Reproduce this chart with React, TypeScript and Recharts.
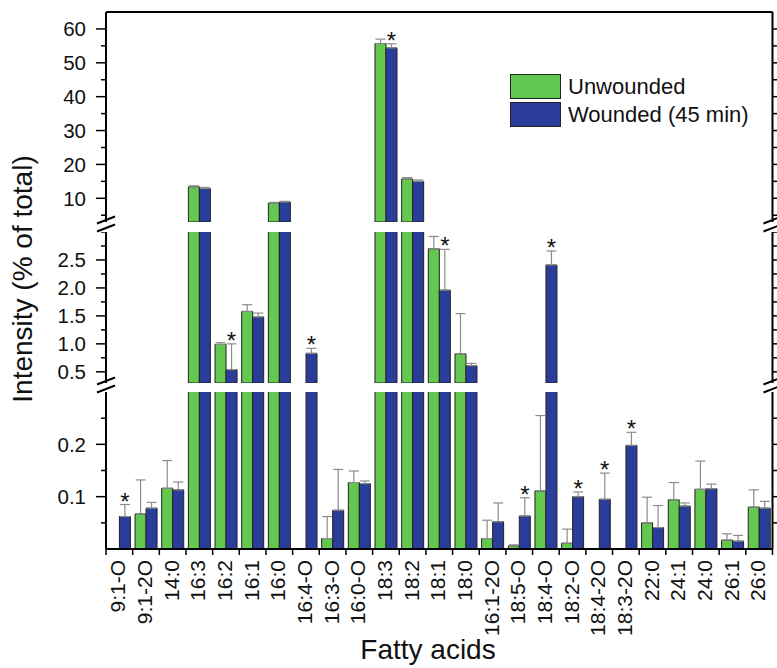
import React from 'react';
import { ComposedChart, Bar, Line, XAxis, YAxis, ErrorBar, LabelList, Legend } from 'recharts';

const acids = ['9:1-O', '9:1-2O', '14:0', '16:3', '16:2', '16:1', '16:0', '16:4-O', '16:3-O', '16:0-O', '18:3', '18:2', '18:1', '18:0', '16:1-2O', '18:5-O', '18:4-O', '18:2-O', '18:4-2O', '18:3-2O', '22:0', '24:1', '24:0', '26:1', '26:0'];
const unwounded = [0, 0.067, 0.116, 13.4, 0.99, 1.58, 8.6, 0, 0.02, 0.127, 55.7, 15.7, 2.7, 0.82, 0.02, 0.006, 0.111, 0.011, 0, 0, 0.05, 0.094, 0.114, 0.017, 0.08];
const unwoundedErr = [0, 0.065, 0.053, 0.3, 0.03, 0.12, 0.2, 0, 0.042, 0.022, 1.3, 0.4, 0.22, 0.72, 0.035, 0.002, 0.144, 0.027, 0, 0, 0.049, 0.033, 0.054, 0.012, 0.033];
const wounded = [0.062, 0.078, 0.113, 12.9, 0.54, 1.48, 8.9, 0.83, 0.074, 0.125, 54.4, 15.0, 1.96, 0.61, 0.052, 0.063, 2.41, 0.1, 0.095, 0.198, 0.041, 0.082, 0.115, 0.015, 0.078];
const woundedErr = [0.023, 0.011, 0.015, 0.3, 0.46, 0.07, 0.2, 0.09, 0.078, 0.005, 1.2, 0.4, 0.73, 0.04, 0.036, 0.035, 0.25, 0.009, 0.05, 0.025, 0.042, 0.006, 0.009, 0.011, 0.013];
const significant = ['9:1-O', '16:2', '16:4-O', '18:3', '18:1', '18:5-O', '18:4-O', '18:2-O', '18:4-2O', '18:3-2O'];

const upperTicks = [5, 10, 15, 20, 25, 30, 35, 40, 45, 50, 55, 60];
const middleTicks = [0.5, 0.75, 1, 1.25, 1.5, 1.75, 2, 2.25, 2.5, 2.75, 3];
const lowerTicks = [0.05, 0.1, 0.15, 0.2, 0.25];

const GREEN = '#62c850';
const BLUE = '#2b3d9b';
const FONT = '"Liberation Sans", Arial, sans-serif';
const W = 777;
const H = 668;
const LEFT_W = 106;
const RIGHT_W = 4.5;

const segments = [
  { key: 'upper', lo: 3, hi: 65, ticks: upperTicks, top: 0, height: 222, marginTop: 11, major: (v: number) => v % 10 === 0, fmt: (v: number) => String(v) },
  { key: 'middle', lo: 0.3, hi: 3, ticks: middleTicks, top: 232, height: 151, marginTop: 0, major: (v: number) => Math.abs(v * 2 - Math.round(v * 2)) < 1e-9 && v < 3, fmt: (v: number) => v.toFixed(1) },
  { key: 'lower', lo: 0, hi: 0.3, ticks: lowerTicks, top: 392, height: 276, marginTop: 0, major: (v: number) => Math.round(v * 100) % 10 === 0, fmt: (v: number) => v.toFixed(1) },
];

function rowsFor(lo: number, hi: number) {
  const inSeg = (v: number) => v > 0 && v >= lo && v < hi;
  return acids.map((acid, i) => ({
    acid,
    g: unwounded[i] >= lo ? unwounded[i] : null,
    w: wounded[i] >= lo ? wounded[i] : null,
    gErr: inSeg(unwounded[i]) && unwoundedErr[i] > 0 ? [0, unwoundedErr[i]] : null,
    wErr: inSeg(wounded[i]) && woundedErr[i] > 0 ? [0, woundedErr[i]] : null,
    starIdx: significant.includes(acid) && inSeg(wounded[i]) ? i : null,
  }));
}

const YTick = (props: any) => {
  const { x, y, payload, seg } = props;
  const v = payload.value;
  const isMajor = seg.major(v);
  const len = isMajor ? 10 : 5;
  return (
    <g>
      <line x1={x - len} x2={x} y1={y} y2={y} stroke="#000" strokeWidth={1.5} />
      {isMajor && (
        <text x={x - 20} y={y} dy="0.36em" textAnchor="end" fontSize={20.5} fill="#111" fontFamily={FONT}>
          {seg.fmt(v)}
        </text>
      )}
    </g>
  );
};

const RightTick = (props: any) => (
  <line x1={props.x} x2={props.x + 5} y1={props.y} y2={props.y} stroke="#000" strokeWidth={1.5} />
);

const TopTick = () => <g />;

const XTick = (props: any) => {
  const { x, y, payload, index } = props;
  const half = payload.offset || (W - LEFT_W - RIGHT_W) / acids.length / 2;
  const lx = x + 6;
  const ly = y + 11;
  return (
    <g>
      <line x1={x + half} x2={x + half} y1={y} y2={y + 6} stroke="#000" strokeWidth={1.5} />
      {index === 0 && <line x1={x - half} x2={x - half} y1={y} y2={y + 6} stroke="#000" strokeWidth={1.5} />}
      <text x={lx} y={ly} transform={`rotate(-90 ${lx} ${ly})`} textAnchor="end" fontSize={21} fill="#111" fontFamily={FONT}>
        {payload.value}
      </text>
    </g>
  );
};

const starFor = (rows: any[], lo: number) => (props: any) => {
  const idx = props.value;
  if (idx == null) return null;
  const r = rows[idx];
  const vb = props.viewBox || props;
  const { x, y, width, height } = vb;
  if (r == null || r.w == null || !height) return null;
  const ppu = height / (r.w - lo);
  const top = y - (r.wErr ? r.wErr[1] : 0) * ppu;
  return (
    <text x={x + width / 2} y={top + 5} textAnchor="middle" fontSize={24} fill="#111" fontFamily={FONT}>
      *
    </text>
  );
};

const renderLegend = ({ payload }: any) => (
  <div style={{ fontFamily: FONT, fontSize: 22, color: '#111' }}>
    {(payload || [])
      .filter((e: any) => e.type !== 'none')
      .map((e: any) => (
        <div key={e.value} style={{ display: 'flex', alignItems: 'center', height: 25, marginBottom: 3 }}>
          <span style={{ display: 'inline-block', width: 49, height: 23, background: e.color, border: '1px solid #222', marginRight: 7 }} />
          <span style={{ lineHeight: '25px', whiteSpace: 'nowrap' }}>{e.value}</span>
        </div>
      ))}
  </div>
);

function Segment({ seg }: { seg: (typeof segments)[number] }) {
  const rows = rowsFor(seg.lo, seg.hi);
  const isUpper = seg.key === 'upper';
  const isLower = seg.key === 'lower';
  return (
    <div style={{ position: 'absolute', left: 0, top: seg.top }}>
      <ComposedChart
        width={W}
        height={seg.height}
        data={rows}
        margin={{ top: seg.marginTop, right: 0, bottom: 0, left: 0 }}
        barGap={0}
        barCategoryGap="9%"
      >
        {isUpper && (
          <XAxis
            dataKey="acid"
            orientation="top"
            height={1}
            interval={0}
            tickSize={0}
            tickMargin={0}
            tickLine={false}
            tick={(p: any) => <TopTick {...p} />}
            axisLine={{ stroke: '#000', strokeWidth: 2 }}
          />
        )}
        {!isUpper && !isLower && <XAxis dataKey="acid" hide />}
        {isLower && (
          <XAxis
            dataKey="acid"
            height={119}
            interval={0}
            tickSize={0}
            tickMargin={0}
            tickLine={false}
            axisLine={{ stroke: '#000', strokeWidth: 2 }}
            tick={(p: any) => <XTick {...p} />}
          />
        )}
        <YAxis
          yAxisId="l"
          type="number"
          domain={[seg.lo, seg.hi]}
          allowDataOverflow
          ticks={seg.ticks}
          interval={0}
          width={LEFT_W}
          tickSize={0}
          tickMargin={0}
          tickLine={false}
          axisLine={{ stroke: '#000', strokeWidth: 2 }}
          tick={(p: any) => <YTick {...p} seg={seg} />}
        />
        <YAxis
          yAxisId="r"
          orientation="right"
          type="number"
          domain={[seg.lo, seg.hi]}
          allowDataOverflow
          ticks={seg.ticks}
          interval={0}
          width={RIGHT_W}
          tickSize={0}
          tickMargin={0}
          tickLine={false}
          tick={(p: any) => <RightTick {...p} />}
          axisLine={{ stroke: '#000', strokeWidth: 2 }}
        />
        {isUpper && (
          <Legend
            layout="horizontal"
            verticalAlign="middle"
            align="center"
            content={renderLegend}
            wrapperStyle={{ position: 'absolute', left: 510, top: 74, width: 260, height: 56 }}
          />
        )}
        <Bar yAxisId="l" dataKey="g" name="Unwounded" fill={GREEN} stroke="#222" strokeWidth={1} isAnimationActive={false}>
          <ErrorBar dataKey="gErr" width={5} stroke="#8c8c8c" strokeWidth={1.2} direction="y" />
        </Bar>
        <Bar yAxisId="l" dataKey="w" name="Wounded (45 min)" fill={BLUE} stroke="#222" strokeWidth={1} isAnimationActive={false}>
          <ErrorBar dataKey="wErr" width={5} stroke="#8c8c8c" strokeWidth={1.2} direction="y" />
          <LabelList dataKey="starIdx" content={starFor(rows, seg.lo)} />
        </Bar>
        {/* invisible series bound to the right-hand frame axis */}
        <Line yAxisId="r" dataKey="w" stroke="none" dot={false} activeDot={false} legendType="none" isAnimationActive={false} />
      </ComposedChart>
    </div>
  );
}

const gaps = [
  { top: 222, bottom: 232 },
  { top: 383, bottom: 392 },
];

function Overlay() {
  const axisXs = [LEFT_W, W - RIGHT_W];
  return (
    <svg width={W} height={H} style={{ position: 'absolute', left: 0, top: 0, pointerEvents: 'none' }}>
      {gaps.map((g, gi) =>
        axisXs.map((ax) =>
          [g.top - 2, g.top + 6].map((cy, k) => (
            <line key={`${gi}-${ax}-${k}`} x1={ax - 9} y1={cy + 3.5} x2={ax + 9} y2={cy - 3.5} stroke="#000" strokeWidth={2} />
          ))
        )
      )}
      <text x={32} y={279} transform="rotate(-90 32 279)" textAnchor="middle" fontSize={28} fill="#111" fontFamily={FONT}>
        Intensity (% of total)
      </text>
      <text x={428} y={659} textAnchor="middle" fontSize={28} fill="#111" fontFamily={FONT}>
        Fatty acids
      </text>
    </svg>
  );
}

export default function App() {
  return (
    <>
      <style>{'html, body { margin: 0; padding: 0; }'}</style>
      <div style={{ position: 'relative', width: W, height: H, overflow: 'hidden', background: '#fff', fontFamily: FONT }}>
        {segments.map((seg) => (
          <Segment key={seg.key} seg={seg} />
        ))}
        <Overlay />
      </div>
    </>
  );
}
